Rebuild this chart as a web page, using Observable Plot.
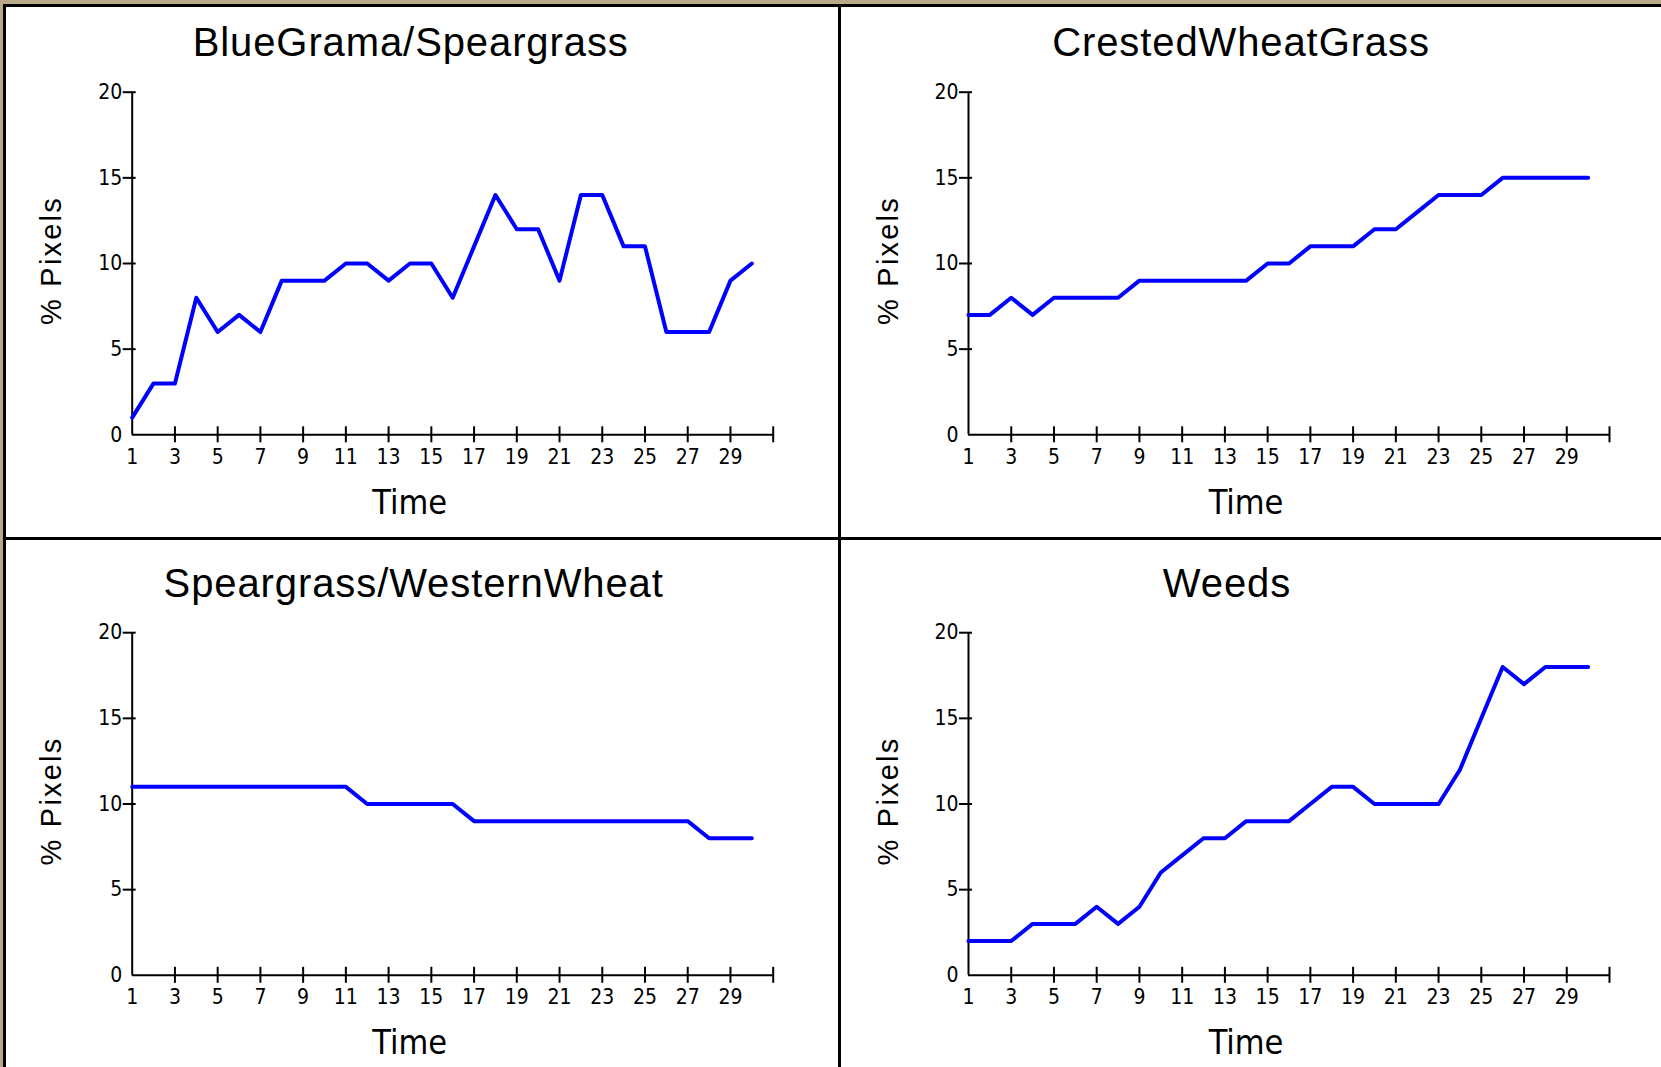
<!DOCTYPE html>
<html>
<head>
<meta charset="utf-8">
<script src="https://cdn.jsdelivr.net/npm/d3@7"></script>
<script src="https://cdn.jsdelivr.net/npm/@observablehq/plot@0.6"></script>
<style>
  html, body { margin: 0; padding: 0; background: #fff; }
  #root { position: relative; width: 1661px; height: 1067px; background: #fff; overflow: hidden; }
  .blk { position: absolute; }
  .panel { position: absolute; }
</style>
</head>
<body>
<div id="root"></div>
<script>
// ---- data ----
const time = [1,2,3,4,5,6,7,8,9,10,11,12,13,14,15,16,17,18,19,20,21,22,23,24,25,26,27,28,29,30];
const titles = ["BlueGrama/Speargrass", "CrestedWheatGrass", "Speargrass/WesternWheat", "Weeds"];
const blueGramaSpeargrass = [1,3,3,8,6,7,6,9,9,9,10,10,9,10,10,8,11,14,12,12,9,14,14,11,11,6,6,6,9,10];
const crestedWheatGrass   = [7,7,8,7,8,8,8,8,9,9,9,9,9,9,10,10,11,11,11,12,12,13,14,14,14,15,15,15,15,15];
const speargrassWestern   = [11,11,11,11,11,11,11,11,11,11,11,10,10,10,10,10,9,9,9,9,9,9,9,9,9,9,9,8,8,8];
const weeds               = [2,2,2,3,3,3,4,3,4,6,7,8,8,9,9,9,10,11,11,10,10,10,10,12,15,18,17,18,18,18];
const xTickLabels = [1,3,5,7,9,11,13,15,17,19,21,23,25,27,29];
const xTickMarks  = [3,5,7,9,11,13,15,17,19,21,23,25,27,29,31];
const yTickLabels = [0,5,10,15,20];
const yTickMarks  = [5,10,15,20];
const xDomain = [1,31];
const yDomain = [0,20];
const xLabel = "Time";
const yLabel = "% Pixels";

const seriesList = [blueGramaSpeargrass, crestedWheatGrass, speargrassWestern, weeds];

// ---- layout ----
const root = document.getElementById("root");
function block(l, t, w, h, c) {
  const d = document.createElement("div");
  d.className = "blk";
  Object.assign(d.style, {left: l + "px", top: t + "px", width: w + "px", height: h + "px", background: c});
  root.appendChild(d);
}
const tan = "#b7a985";
block(0, 0, 1661, 4, tan);
block(0, 0, 3, 1067, tan);
block(3, 4, 1658, 3, "#000");
block(3, 4, 3, 1063, "#000");
block(838, 7, 3, 1060, "#000");
block(6, 537, 1655, 3, "#000");

const layouts = [
  {left: 6,   top: 7,   width: 832, height: 530, ml: 125.7, mr: 65.3, mt: 84.7, mb: 102.7, titleDx: -42},
  {left: 841, top: 7,   width: 820, height: 530, ml: 127,   mr: 52,   mt: 84.7, mb: 102.7, titleDx: -48},
  {left: 6,   top: 540, width: 832, height: 527, ml: 125.7, mr: 65.3, mt: 92.2, mb: 92.2,  titleDx: -39},
  {left: 841, top: 540, width: 820, height: 527, ml: 127,   mr: 52,   mt: 92.2, mb: 92.2,  titleDx: -62}
];

const narrow = '"Liberation Sans Narrow", "Arial Narrow", "DejaVu Sans Condensed", "Liberation Sans", sans-serif';
const regular = '"Liberation Sans", Arial, sans-serif';

layouts.forEach((L, k) => {
  const rows = time.map((t, i) => ({t, v: seriesList[k][i]}));
  const svg = Plot.plot({
    width: L.width,
    height: L.height,
    marginLeft: L.ml, marginRight: L.mr, marginTop: L.mt, marginBottom: L.mb,
    style: {background: "#fff", fontFamily: narrow, fontSize: "21px", color: "#000", maxWidth: "none"},
    x: {domain: xDomain},
    y: {domain: yDomain},
    marks: [
      Plot.ruleY([0], {x1: xDomain[0], x2: xDomain[1], stroke: "#000", strokeWidth: 2}),
      Plot.ruleX([xDomain[0]], {y1: yDomain[0], y2: yDomain[1], stroke: "#000", strokeWidth: 2}),
      Plot.ruleX(xTickMarks, {x: d => d, y1: 0, y2: 0, insetTop: -8, insetBottom: -8, stroke: "#000", strokeWidth: 2}),
      Plot.ruleY(yTickMarks, {y: d => d, x1: 1, x2: 1, insetLeft: -9, insetRight: -4, stroke: "#000", strokeWidth: 2}),
      Plot.axisX({ticks: xTickLabels, tickSize: 0, tickPadding: 14, label: null, tickFormat: d => String(d), fontSize: 21, fill: "#000"}),
      Plot.axisY({ticks: yTickLabels, tickSize: 0, tickPadding: 10, label: null, tickFormat: d => String(d), fontSize: 21, fill: "#000"}),
      Plot.line(rows, {x: "t", y: "v", stroke: "#0000ff", strokeWidth: 4, strokeLinejoin: "round", strokeLinecap: "round"}),
      Plot.text([titles[k]], {text: d => d, frameAnchor: "top", lineAnchor: "middle", textAnchor: "middle", dx: L.titleDx, dy: -49, fontSize: 40, fontFamily: regular, fill: "#000"}),
      Plot.text([xLabel], {text: d => d, frameAnchor: "bottom", lineAnchor: "middle", textAnchor: "middle", dx: -43, dy: 68, fontSize: 34, fontFamily: narrow, fill: "#000"}),
      Plot.text([yLabel], {text: d => d, frameAnchor: "left", lineAnchor: "middle", textAnchor: "middle", rotate: -90, dx: -80, dy: -3, fontSize: 29, fontFamily: regular, fill: "#000"})
    ]
  });
  svg.classList.add("panel");
  svg.style.left = L.left + "px";
  svg.style.top = L.top + "px";
  svg.querySelectorAll("text").forEach(t => {
    const s = t.textContent;
    if (s === titles[k]) t.style.letterSpacing = "0.9px";
    else if (s === yLabel) t.style.letterSpacing = "2.2px";
  });
  root.appendChild(svg);
});
</script>
</body>
</html>
